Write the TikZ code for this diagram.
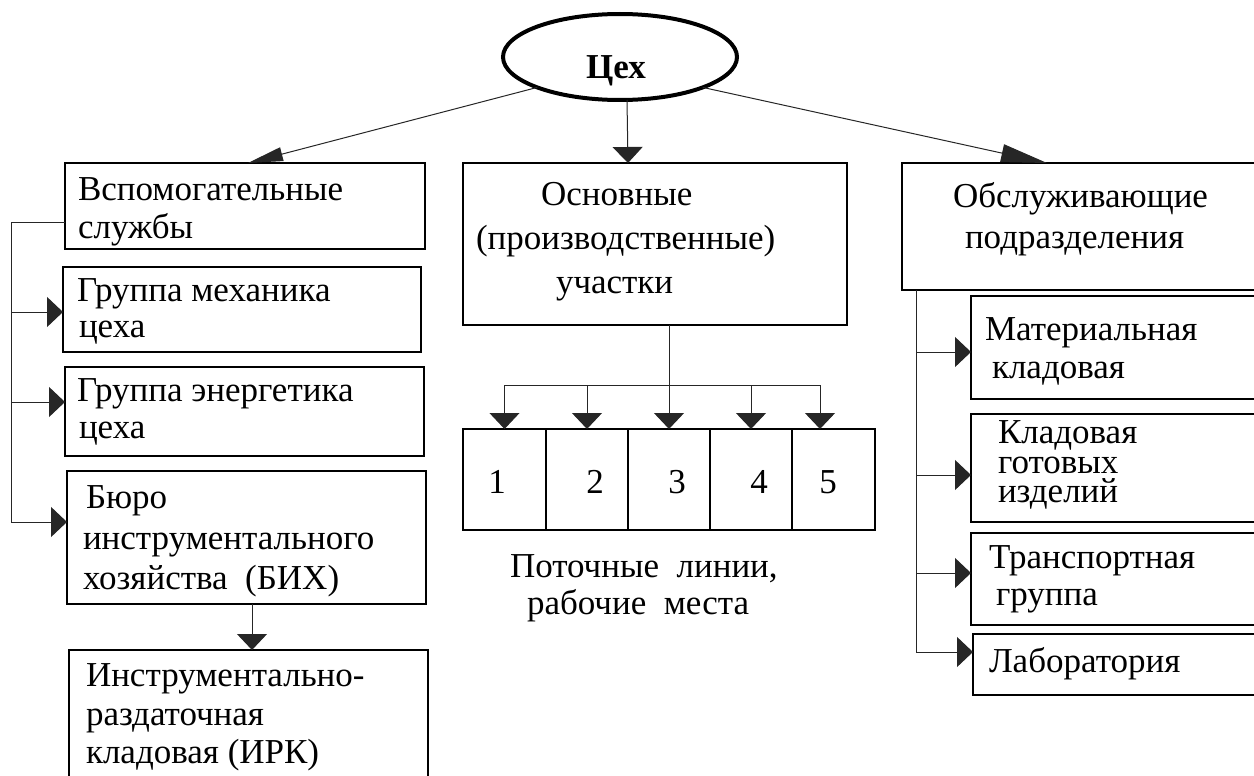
\documentclass[tikz,border=0pt]{standalone}
\usepackage{fontspec}
\setmainfont{Liberation Serif}
\usetikzlibrary{arrows.meta,shapes.geometric}

\newcommand\txtsize{\fontsize{35pt}{39pt}\selectfont}

\tikzset{
  box/.style={draw, line width=2.2pt, inner sep=0pt, outer sep=0pt},
  txt/.style={anchor=base west, inner sep=0pt, outer sep=0pt, font=\txtsize},
  num/.style={anchor=base, inner sep=0pt, outer sep=0pt, font=\txtsize},
  conn/.style={line width=1pt, draw=black!85},
  arr/.style={conn, -{Triangle[length=16pt,width=30pt]}},
}

\begin{document}
\begin{tikzpicture}[x=1pt, y=-1pt]
\useasboundingbox (0,0) rectangle (1254,776);
\clip (0,0) rectangle (1254,776);

% root
\node[ellipse, draw, line width=4pt, minimum width=234pt, minimum height=86pt,
      inner sep=0pt, outer sep=0pt] (ceh) at (620,57) {};
\node[anchor=base, inner sep=0pt, font=\txtsize\bfseries] (ceh-t) at (616,78) {Цех};

% left column
\node[box, minimum width=360pt, minimum height=86pt]  (vsp) at (245,206) {};
\node[box, minimum width=358pt, minimum height=85pt]  (gm)  at (242,309.5) {};
\node[box, minimum width=359pt, minimum height=89pt]  (ge)  at (244.5,411.5) {};
\node[box, minimum width=359pt, minimum height=133pt] (bih) at (246.5,537.5) {};
\node[box, minimum width=359pt, minimum height=140pt] (irk) at (248.5,720) {};

\node[txt] (vsp-a) at (78,200) {Вспомогательные};
\node[txt] (vsp-b) at (78,238) {службы};
\node[txt] (gm-a)  at (77,301) {Группа механика};
\node[txt] (gm-b)  at (79,337) {цеха};
\node[txt] (ge-a)  at (77,401) {Группа энергетика};
\node[txt] (ge-b)  at (79,438) {цеха};
\node[txt] (bih-a) at (86,508) {Бюро};
\node[txt] (bih-b) at (83,549) {инструментального};
\node[txt] (bih-c) at (83,589) {хозяйства~~(БИХ)};
\node[txt] (irk-a) at (86,686) {Инструментально-};
\node[txt] (irk-b) at (86,725) {раздаточная};
\node[txt] (irk-c) at (86,763) {кладовая (ИРК)};

% middle column
\node[box, minimum width=384pt, minimum height=162pt] (osn) at (655,244) {};
\node[txt] (osn-a) at (541,205) {Основные};
\node[txt] (osn-b) at (476,249) {(производственные)};
\node[txt] (osn-c) at (556,293) {участки};

\node[box, minimum width=83pt, minimum height=101pt] (c1) at (504.5,479.5) {};
\node[box, minimum width=82pt, minimum height=101pt] (c2) at (587,479.5) {};
\node[box, minimum width=82pt, minimum height=101pt] (c3) at (669,479.5) {};
\node[box, minimum width=82pt, minimum height=101pt] (c4) at (751,479.5) {};
\node[box, minimum width=83pt, minimum height=101pt] (c5) at (833.5,479.5) {};
\node[num] (n1) at (497,493) {1};
\node[num] (n2) at (595,493) {2};
\node[num] (n3) at (677,493) {3};
\node[num] (n4) at (759,493) {4};
\node[num] (n5) at (828,493) {5};

\node[txt] (cap-a) at (510,577) {Поточные~~линии,};
\node[txt] (cap-b) at (527,614) {рабочие~~места};

% right column
\node[box, minimum width=358pt, minimum height=127pt] (obs) at (1081,226.5) {};
\node[txt] (obs-a) at (953,207) {Обслуживающие};
\node[txt] (obs-b) at (965,248) {подразделения};

\node[box, minimum width=289pt, minimum height=103pt] (mat) at (1115.5,347.5) {};
\node[box, minimum width=289pt, minimum height=108pt] (kgi) at (1115.5,468) {};
\node[box, minimum width=289pt, minimum height=92pt]  (tr)  at (1115.5,579) {};
\node[box, minimum width=287pt, minimum height=61pt]  (lab) at (1116.5,664.5) {};

\node[txt] (mat-a) at (985,340) {Материальная};
\node[txt] (mat-b) at (992,378) {кладовая};
\node[txt] (kgi-a) at (998,443) {Кладовая};
\node[txt] (kgi-b) at (998,473) {готовых};
\node[txt] (kgi-c) at (998,502) {изделий};
\node[txt] (tr-a)  at (989,568) {Транспортная};
\node[txt] (tr-b)  at (996,605) {группа};
\node[txt] (lab-a) at (989,672) {Лаборатория};

% connectors from the root
\draw[conn, -{Triangle[length=35pt,width=14pt]}] (ceh.south west) -- ([xshift=3pt]vsp.north);
\draw[arr] ([xshift=7pt]ceh.south) -- ([xshift=-27pt]osn.north);
\draw[conn, -{Triangle[length=46pt,width=18pt]}] (ceh.south east) -- ([xshift=145pt]obs.north west);

% left bracket
\coordinate (lt) at (11,222);
\coordinate (lb) at (11,522);
\draw[conn] ([yshift=-16pt]vsp.west) -- (lt) -- (lb);
\draw[arr] ([yshift=-2.5pt]gm.west -| lt) -- ([yshift=-2.5pt]gm.west);
\draw[arr] ([yshift=9.5pt]ge.west -| lt) -- ([yshift=9.5pt]ge.west);
\draw[arr] (lb) -- ([yshift=15.5pt]bih.west);
\draw[arr] ([xshift=5.5pt]bih.south) -- ([xshift=3.5pt]irk.north);

% distribution to the lines
\coordinate (hub) at (669,385);
\draw[conn] ([xshift=14pt]osn.south) -- (hub);
\draw[conn] (c1.north |- hub) -- ([xshift=-13.5pt]c5.north |- hub);
\draw[arr] (c1.north |- hub) -- (c1.north);
\draw[arr] (c2.north |- hub) -- (c2.north);
\draw[arr] (c3.north |- hub) -- (c3.north);
\draw[arr] (c4.north |- hub) -- (c4.north);
\draw[arr] ([xshift=-13.5pt]c5.north |- hub) -- ([xshift=-13.5pt]c5.north);

% right bracket
\coordinate (rb) at (916,652);
\draw[conn] ([xshift=-165pt]obs.south) -- (rb);
\draw[arr] ([yshift=-4.5pt]mat.west -| rb) -- ([yshift=-4.5pt]mat.west);
\draw[arr] ([yshift=-7pt]kgi.west -| rb) -- ([yshift=-7pt]kgi.west);
\draw[arr] ([yshift=6pt]tr.west -| rb) -- ([yshift=6pt]tr.west);
\draw[arr] (rb) -- ([yshift=12.5pt]lab.west);
\end{tikzpicture}
\end{document}
